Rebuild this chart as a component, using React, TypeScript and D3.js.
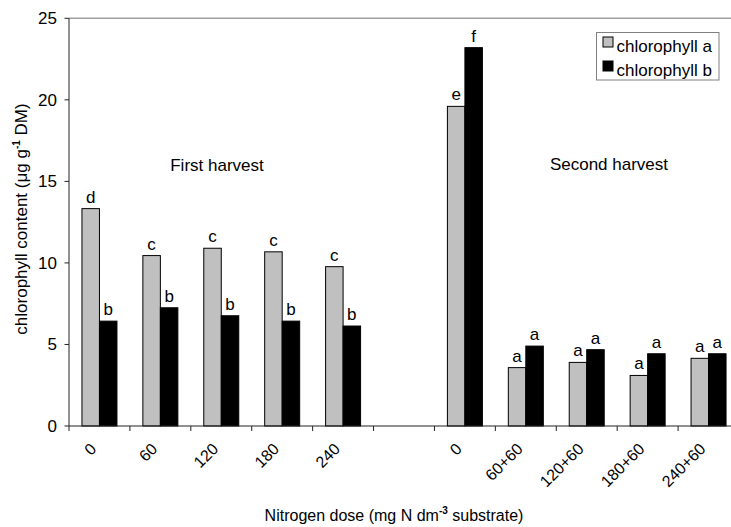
import React from "react";
import * as d3 from "d3";

const categories = ["0", "60", "120", "180", "240", "", "0 ", "60+60", "120+60", "180+60", "240+60"];
const tickLabels = ["0", "60", "120", "180", "240", "", "0", "60+60", "120+60", "180+60", "240+60"];
const chlorophyllA: (number | null)[] = [13.33, 10.45, 10.9, 10.68, 9.77, null, 19.6, 3.58, 3.9, 3.1, 4.15];
const chlorophyllB: (number | null)[] = [6.43, 7.25, 6.76, 6.43, 6.13, null, 23.2, 4.9, 4.68, 4.43, 4.43];
const lettersA = ["d", "c", "c", "c", "c", "", "e", "a", "a", "a", "a"];
const lettersB = ["b", "b", "b", "b", "b", "", "f", "a", "a", "a", "a"];
const yTicks = [0, 5, 10, 15, 20, 25];
const seriesNames = ["chlorophyll a", "chlorophyll b"];
const seriesColors = ["#c0c0c0", "#000000"];

const W = 731;
const H = 527;
const FONT = "Arial, 'Liberation Sans', sans-serif";

export default function App() {
  const left = 69;
  const right = 739;
  const top = 18.3;
  const bottom = 426;

  const x = d3.scaleBand<string>().domain(categories).range([left, right]).paddingInner(0).paddingOuter(0);
  const y = d3.scaleLinear().domain([0, 25]).range([bottom, top]);
  const bw = 17.5;

  const bars: React.ReactNode[] = [];
  categories.forEach((c, i) => {
    const cx = (x(c) as number) + x.bandwidth() / 2;
    const vals = [chlorophyllA[i], chlorophyllB[i]];
    const lets = [lettersA[i], lettersB[i]];
    vals.forEach((v, s) => {
      if (v == null) return;
      const bx = cx - bw + s * bw;
      bars.push(
        <rect key={`b${i}-${s}`} x={bx} y={y(v)} width={bw} height={bottom - y(v)}
          fill={seriesColors[s]} stroke="#000" strokeWidth={1} />
      );
      bars.push(
        <text key={`l${i}-${s}`} x={bx + bw / 2} y={y(v) - 6} textAnchor="middle"
          fontSize={17} fill="#000">{lets[s]}</text>
      );
    });
  });

  const boundaries = d3.range(categories.length + 1).map((i) => left + i * x.bandwidth());

  return (
    <svg width={W} height={H} style={{ position: "absolute", left: 0, top: 0, background: "#fff" }}
      fontFamily={FONT}>
      <rect x={0} y={0} width={W} height={H} fill="#fff" />
      {/* plot border top */}
      <line x1={left} x2={W} y1={top} y2={top} stroke="#a0a0a0" strokeWidth={1.5} />
      {bars}
      {/* y axis */}
      <line x1={left} x2={left} y1={top} y2={bottom} stroke="#222" strokeWidth={1} />
      {yTicks.map((t) => (
        <g key={`yt${t}`}>
          <line x1={left - 4.5} x2={left} y1={y(t)} y2={y(t)} stroke="#222" />
          <text x={57} y={y(t)} dy="0.35em" textAnchor="end" fontSize={17} fill="#000">{t}</text>
        </g>
      ))}
      {/* x axis */}
      <line x1={left} x2={W} y1={bottom} y2={bottom} stroke="#222" strokeWidth={1} />
      {boundaries.map((b, i) => (
        <line key={`xt${i}`} x1={b} x2={b} y1={bottom} y2={bottom + 5} stroke="#222" />
      ))}
      {categories.map((c, i) => {
        const cx = (x(c) as number) + x.bandwidth() / 2;
        const lx = cx - 6;
        const ly = 446;
        return tickLabels[i] ? (
          <text key={`xl${i}`} x={lx} y={ly} dy="0.35em" textAnchor="end" fontSize={16}
            transform={`rotate(-45 ${lx} ${ly})`} fill="#000">{tickLabels[i]}</text>
        ) : null;
      })}
      {/* axis titles */}
      <text x={394} y={521} textAnchor="middle" fontSize={16} fill="#000">
        Nitrogen dose (mg N dm<tspan dy={-7} fontSize={10} fontWeight="bold">-3</tspan>
        <tspan dy={7}> substrate)</tspan>
      </text>
      <text transform="translate(27,219) rotate(-90)" textAnchor="middle" fontSize={17} fill="#000">
        chlorophyll content (μg g<tspan dy={-7} fontSize={10} fontWeight="bold">-1</tspan>
        <tspan dy={7}> DM)</tspan>
      </text>
      {/* annotations */}
      <text x={217} y={165} dy="0.35em" textAnchor="middle" fontSize={17} fill="#000">First harvest</text>
      <text x={609} y={164} dy="0.35em" textAnchor="middle" fontSize={17} fill="#000">Second harvest</text>
      {/* legend */}
      <rect x={596.5} y={32.5} width={122.5} height={47.5} fill="#fff" stroke="#808080" strokeWidth={1} />
      {seriesNames.map((n, i) => (
        <g key={`lg${i}`}>
          <rect x={603} y={42 + i * 24 - 5} width={10} height={10} fill={seriesColors[i]} stroke="#000" />
          <text x={616.5} y={46.5 + i * 24} dy="0.35em" fontSize={17} fill="#000">{n}</text>
        </g>
      ))}
    </svg>
  );
}
